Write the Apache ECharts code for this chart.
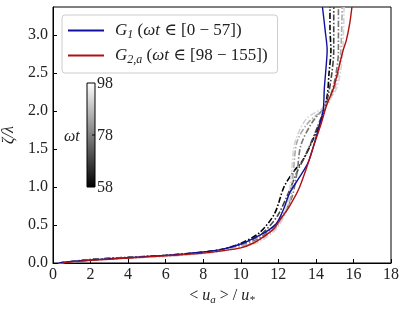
<!DOCTYPE html>
<html><head><meta charset="utf-8">
<script src="https://cdn.jsdelivr.net/npm/echarts@6/dist/echarts.min.js"></script>
<style>html,body{margin:0;padding:0;background:#fff}#c{width:407px;height:311px}</style>
</head><body><div id="c"></div>
<script>
// ---- data ----
const xTicks = [0,2,4,6,8,10,12,14,16,18];
const yTicks = [0.0,0.5,1.0,1.5,2.0,2.5,3.0];
const g1X = [0.3,1,2,3,4,5,6,7,8,9,10,10.8,11.4,11.9,12.3,12.6,13.1,13.6,14.0,14.38,14.45,14.55,14.6,14.5,14.35];
const g1Y = [0,0.02,0.04,0.055,0.07,0.085,0.1,0.12,0.145,0.18,0.25,0.34,0.42,0.52,0.72,0.92,1.12,1.33,1.65,2.0,2.3,2.6,2.8,3.05,3.37];
const g2X = [0.5,1,2,3,4,5,6,7,8,9,10,10.65,11.3,11.8,12.1,12.6,13.1,13.5,13.8,14.3,14.6,14.91,15.2,15.45,15.62,15.8,15.92];
const g2Y = [0,0.015,0.035,0.05,0.065,0.08,0.095,0.11,0.13,0.16,0.2,0.26,0.36,0.46,0.57,0.75,0.98,1.25,1.48,1.85,2.1,2.28,2.55,2.8,2.93,3.15,3.37];
const wtValues = [58,68,78,88,98];
const wtX = [
  [0.3,2,4,6,8,9,10,11,11.8,12.3,12.8,13.3,13.8,14.3,14.6,14.7,14.8,14.75,14.75],
  [0.3,2,4,6,8,9,10,11,11.9,12.5,13.0,13.5,14.1,14.6,14.85,14.95,14.95],
  [0.3,2,4,6,8,9,10,11,12.0,12.7,13.0,13.2,13.8,14.6,15.0,15.2,15.2],
  [0.3,2,4,6,8,9,10,11,12.0,12.6,12.8,13.0,13.6,14.5,15.0,15.3,15.4],
  [0.3,2,4,6,8,9,10,11,12.0,12.5,12.7,12.9,13.5,14.4,15.1,15.4,15.5]
];
const wtY = [
  [0,0.045,0.075,0.1,0.145,0.18,0.26,0.4,0.65,1.0,1.2,1.35,1.6,1.9,2.2,2.5,2.8,3.1,3.37],
  [0,0.043,0.072,0.1,0.14,0.175,0.25,0.36,0.6,0.9,1.2,1.45,1.8,2.15,2.5,2.8,3.37],
  [0,0.04,0.07,0.095,0.135,0.17,0.24,0.33,0.55,0.85,1.2,1.55,1.85,2.1,2.4,2.8,3.37],
  [0,0.038,0.067,0.09,0.13,0.16,0.22,0.3,0.5,0.8,1.2,1.6,1.85,2.05,2.3,2.7,3.37],
  [0,0.035,0.064,0.087,0.125,0.155,0.21,0.28,0.48,0.8,1.2,1.6,1.9,2.05,2.3,2.7,3.37]
];
const grayColors = ['#000000','#444444','#777777','#aaaaaa','#d5d5d5'];

// ---- chart ----
const F = 'Liberation Serif, DejaVu Serif, serif';
const FS = 16;
const zip = (a,b)=>a.map((v,i)=>[v,b[i]]);
const series = [];
wtValues.forEach((w,i)=>{
  series.push({type:'line', name:'wt'+w, data:zip(wtX[i],wtY[i]), smooth:0.3, symbol:'none',
    lineStyle:{color:grayColors[i], width:1.6, type:[6,2,1.5,2]}, z:3});
});
series.push({type:'line', name:'G1', data:zip(g1X,g1Y), smooth:0.3, symbol:'none', lineStyle:{color:'#1010a0', width:1.4}, itemStyle:{color:'#1010a0'}, z:4});
series.push({type:'line', name:'G2', data:zip(g2X,g2Y), smooth:0.3, symbol:'none', lineStyle:{color:'#b01010', width:1.4}, itemStyle:{color:'#b01010'}, z:4});

const mkRich = (fs)=>({
  i:{fontFamily:F, fontStyle:'italic', fontSize:fs, color:'#222'},
  s:{fontFamily:F, fontStyle:'italic', fontSize:Math.round(fs*0.68), color:'#222', padding:[Math.round(fs*0.5),0,0,0]},
  n:{fontFamily:F, fontSize:fs, color:'#222'}
});
const chart = echarts.init(document.getElementById('c'));
chart.setOption({
  animation:false,
  grid:{left:53, right:16, top:7, bottom:48, show:true, borderColor:'#000', borderWidth:1, containLabel:false, outerBoundsMode:'none'},
  xAxis:{type:'value', min:0, max:18, interval:2,
    name:'{n|< }{i|u}{s|a}{n| > / }{i|u}{s|*}', nameLocation:'middle', nameGap:22,
    nameTextStyle:{fontFamily:F, fontSize:FS, color:'#222', rich:mkRich(FS)},
    axisLine:{lineStyle:{color:'#000'}}, axisTick:{inside:true, length:4, lineStyle:{color:'#000'}},
    splitLine:{show:false},
    axisLabel:{fontFamily:F, fontSize:FS, color:'#222', margin:4, formatter:v=>xTicks.includes(v)?String(v):''}},
  yAxis:{type:'value', min:0, max:3.37, interval:0.5,
    name:'ζ/λ', nameLocation:'middle', nameGap:27,
    nameTextStyle:{fontFamily:F, fontStyle:'italic', fontSize:FS, color:'#222'},
    axisLine:{lineStyle:{color:'#000'}}, axisTick:{inside:true, length:4, lineStyle:{color:'#000'}},
    splitLine:{show:false},
    axisLabel:{fontFamily:F, fontSize:FS, color:'#222', margin:5, showMaxLabel:false,
      formatter:v=>{const t=yTicks.find(y=>Math.abs(y-v)<1e-6);return t===undefined?'':t.toFixed(1);}}},
  legend:{data:['G1','G2'], left:62, top:15, orient:'vertical', padding:[7,10,7,6], itemGap:6,
    icon:'rect', itemWidth:36, itemHeight:2, backgroundColor:'#fff', borderColor:'#cccccc', borderWidth:1, borderRadius:3,
    textStyle:{fontFamily:F, fontSize:17, color:'#222', padding:[0,0,0,6], rich:mkRich(17)},
    formatter:n=> n==='G1' ? '{i|G}{s|1}{n| (}{i|ωt}{n| ∈ [0 − 57])}' : '{i|G}{s|2,a}{n| (}{i|ωt}{n| ∈ [98 − 155])}'},
  graphic:[
    {type:'rect', shape:{x:87, y:83, width:8, height:104}, z:10,
      style:{fill:new echarts.graphic.LinearGradient(0,0,0,1,[{offset:0,color:'#ffffff'},{offset:1,color:'#000000'}]), stroke:'#000', lineWidth:1}},
    {type:'line', shape:{x1:92, y1:135, x2:95, y2:135}, style:{stroke:'#000', lineWidth:1}, z:11},
    {type:'text', x:97, y:84, style:{text:'98', font:FS+'px '+F, fill:'#222', textVerticalAlign:'middle'}, z:11},
    {type:'text', x:97, y:136, style:{text:'78', font:FS+'px '+F, fill:'#222', textVerticalAlign:'middle'}, z:11},
    {type:'text', x:97, y:188, style:{text:'58', font:FS+'px '+F, fill:'#222', textVerticalAlign:'middle'}, z:11},
    {type:'text', x:64, y:137, style:{text:'ωt', font:'italic '+FS+'px '+F, fill:'#222', textVerticalAlign:'middle'}, z:11}
  ],
  series:series
});
</script></body></html>
